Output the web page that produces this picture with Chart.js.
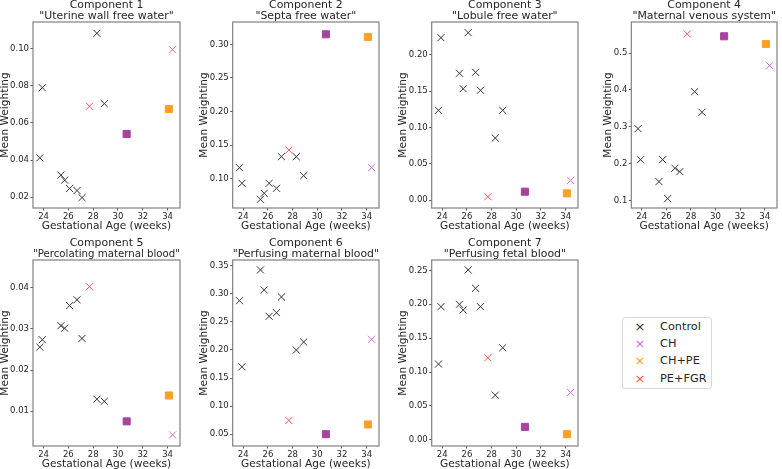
<!DOCTYPE html>
<html lang="en">
<head>
  <meta charset="UTF-8">
  <title>Mean weighting per component</title>
  <script src="https://cdn.jsdelivr.net/npm/chart.js"></script>
  <style>
    body {
      margin: 0;
      background: #fff;
      font-family: 'DejaVu Sans', sans-serif;
      overflow: hidden;
    }
    #wrap {
      position: relative;
      width: 782px;
      height: 469px;
    }
    #wrap canvas {
      position: absolute;
    }
    .legend {
      position: absolute;
      left: 622px;
      top: 317px;
      width: 88px;
      height: 70px;
      border: 1px solid #d9d9d9;
      border-radius: 3px;
      background: #fff;
    }
    .legend .row {
      position: absolute;
      left: 0;
      height: 16px;
      line-height: 16px;
      font-size: 11.3px;
      color: #262626;
      white-space: nowrap;
    }
    .legend .mark {
      display: inline-block;
      width: 34px;
      text-align: center;
      font-size: 13px;
    }
    .legend .txt {
      position: absolute;
      left: 37px;
      top: 0;
    }
  </style>
</head>
<body>
  <div id="wrap">
    <div class="legend" id="legend"></div>
  </div>

  <script>
    // gestational ages (weeks)
    const controlAge = [23.7, 23.9, 25.4, 25.7, 26.1, 26.7, 27.1, 28.3, 28.9];
    const chAge = 34.4;
    const purpleSqAge = 30.7;
    const orangeSqAge = 34.1;
    const pefgrAge = 27.7;

    const titles = [
      'Uterine wall free water',
      'Septa free water',
      'Lobule free water',
      'Maternal venous system',
      'Percolating maternal blood',
      'Perfusing maternal blood',
      'Perfusing fetal blood'
    ];

    // mean weighting of each control, one list per component
    const control1 = [0.0412, 0.0790, 0.0319, 0.0292, 0.0247, 0.0236, 0.0198, 0.1083, 0.0704];
    const control2 = [0.1164, 0.0931, 0.0693, 0.0782, 0.0931, 0.0857, 0.1328, 0.1328, 0.1045];
    const control3 = [0.1237, 0.2239, 0.1748, 0.1535, 0.2308, 0.1761, 0.1513, 0.0855, 0.1237];
    const control4 = [0.295, 0.211, 0.1515, 0.211, 0.1054, 0.1877, 0.1785, 0.3952, 0.3394];
    const control5 = [0.0256, 0.0274, 0.0308, 0.0302, 0.0357, 0.0371, 0.0277, 0.0129, 0.0124];
    const control6 = [0.2876, 0.170, 0.3423, 0.3067, 0.2598, 0.2662, 0.2942, 0.1997, 0.214];
    const control7 = [0.1118, 0.1964, 0.1999, 0.1915, 0.2506, 0.2235, 0.1964, 0.066, 0.1358];
    const controls = [control1, control2, control3, control4, control5, control6, control7];

    // one value per component
    const chValues = [0.0995, 0.1164, 0.0271, 0.4657, 0.0042, 0.2188, 0.0700];
    const purpleSqValues = [0.0541, 0.3149, 0.0115, 0.5453, 0.0075, 0.0500, 0.0192];
    const orangeSqValues = [0.0675, 0.3109, 0.0092, 0.5244, 0.0138, 0.0673, 0.0084];
    const pefgrValues = [0.0690, 0.1427, 0.0046, 0.5515, 0.0403, 0.0744, 0.1211];

    // axes
    const xMin = 23.15, xMax = 35.0;
    const xTicks = [24, 26, 28, 30, 32, 34];
    const yMin = [0.0142, 0.0564, -0.011, 0.080, 0.0015, 0.029, -0.009];
    const yMax = [0.1144, 0.3332, 0.2455, 0.584, 0.0468, 0.360, 0.2652];
    const yTicks = [
      [0.02, 0.04, 0.06, 0.08, 0.10],
      [0.10, 0.15, 0.20, 0.25, 0.30],
      [0.00, 0.05, 0.10, 0.15, 0.20],
      [0.1, 0.2, 0.3, 0.4, 0.5],
      [0.01, 0.02, 0.03, 0.04],
      [0.05, 0.10, 0.15, 0.20, 0.25, 0.30, 0.35],
      [0.00, 0.05, 0.10, 0.15, 0.20, 0.25]
    ];
    const yDecimals = [2, 2, 2, 1, 2, 2, 2];

    const legendLabels = ['Control', 'CH', 'CH+PE', 'PE+FGR'];
    const colors = {
      control: '#333333',
      ch: '#cc6ccb',
      purpleSq: '#a5449f',
      orange: '#f9a126',
      red: '#f2534d'
    };
    const legendColors = [colors.control, colors.ch, colors.orange, colors.red];

    // plot frames on the page: left, top, width, height, y-title centre
    const frames = [
      { L: 33, T: 22, W: 151, H: 186, yt: 5 },
      { L: 233, T: 22, W: 150, H: 186, yt: 204.3 },
      { L: 432, T: 22, W: 150, H: 186, yt: 403.3 },
      { L: 631, T: 22, W: 150, H: 186, yt: 607.7 },
      { L: 33, T: 260, W: 151, H: 186, yt: 5 },
      { L: 233, T: 260, W: 150, H: 186, yt: 204.3 },
      { L: 432, T: 260, W: 150, H: 186, yt: 403.3 }
    ];

    const textColor = '#262626';
    const frameColor = '#808080';

    const framePlugin = {
      id: 'frame',
      afterDraw(chart) {
        const a = chart.chartArea;
        const ctx = chart.ctx;
        ctx.save();
        ctx.strokeStyle = frameColor;
        ctx.lineWidth = 1.2;
        ctx.strokeRect(a.left, a.top, a.right - a.left, a.bottom - a.top);
        ctx.restore();
      }
    };

    function pointSet(label, xs, ys, style, color, radius) {
      return {
        label: label,
        data: xs.map((x, k) => ({ x: x, y: ys[k] })),
        pointStyle: style,
        pointRadius: radius,
        pointHoverRadius: radius,
        pointBorderColor: color,
        pointBackgroundColor: color,
        pointBorderWidth: 1,
        borderColor: color,
        backgroundColor: color,
        showLine: false
      };
    }

    function makePanel(i) {
      const f = frames[i];
      const yw = f.L - (f.yt - 6);
      const topH = 24, botH = 24;
      const cv = document.createElement('canvas');
      cv.width = Math.round(yw + f.W + 2);
      cv.height = topH + f.H + botH;
      cv.style.left = (f.L - yw) + 'px';
      cv.style.top = (f.T - topH) + 'px';
      document.getElementById('wrap').appendChild(cv);

      new Chart(cv, {
        type: 'scatter',
        data: {
          datasets: [
            pointSet('Control', controlAge, controls[i], 'crossRot', colors.control, 5),
            pointSet('CH', [chAge], [chValues[i]], 'crossRot', colors.ch, 5),
            pointSet('square', [purpleSqAge], [purpleSqValues[i]], 'rect', colors.purpleSq, 5),
            pointSet('CH+PE', [orangeSqAge], [orangeSqValues[i]], 'rect', colors.orange, 5),
            pointSet('PE+FGR', [pefgrAge], [pefgrValues[i]], 'crossRot', colors.red, 5)
          ]
        },
        options: {
          responsive: false,
          animation: false,
          layout: { padding: { left: 0, right: cv.width - yw - f.W, top: 0, bottom: 0 } },
          plugins: {
            legend: { display: false },
            tooltip: { enabled: false },
            title: {
              display: true,
              fullSize: false,
              text: ['Component ' + (i + 1), '"' + titles[i] + '"'],
              color: textColor,
              font: { family: 'DejaVu Sans', size: 10.9, weight: 'normal', lineHeight: '11px' },
              padding: { top: 2, bottom: 0 }
            }
          },
          scales: {
            x: {
              type: 'linear',
              min: xMin,
              max: xMax,
              afterBuildTicks: s => { s.ticks = xTicks.map(v => ({ value: v })); },
              afterFit: s => { s.height = botH; },
              grid: { drawOnChartArea: false, drawTicks: true, tickLength: 2.5, color: '#555' },
              border: { display: false },
              ticks: {
                color: textColor,
                padding: 1.5,
                font: { family: 'DejaVu Sans', size: 8.5 },
                callback: v => String(v)
              },
              title: {
                display: true,
                text: 'Gestational Age (weeks)',
                color: textColor,
                font: { family: 'DejaVu Sans', size: 10.6, lineHeight: '12px' },
                padding: { top: 0, bottom: 0 }
              }
            },
            y: {
              type: 'linear',
              min: yMin[i],
              max: yMax[i],
              afterBuildTicks: s => { s.ticks = yTicks[i].map(v => ({ value: v })); },
              afterFit: s => { s.width = yw; },
              grid: { drawOnChartArea: false, drawTicks: true, tickLength: 2.5, color: '#555' },
              border: { display: false },
              ticks: {
                color: textColor,
                padding: 1.5,
                font: { family: 'DejaVu Sans', size: 8.5 },
                callback: v => v.toFixed(yDecimals[i])
              },
              title: {
                display: true,
                text: 'Mean Weighting',
                color: textColor,
                font: { family: 'DejaVu Sans', size: 10.6, lineHeight: '12px' },
                padding: { top: 0, bottom: 0 }
              }
            }
          }
        },
        plugins: [framePlugin]
      });
    }

    for (let i = 0; i < frames.length; i++) makePanel(i);

    // legend
    const legend = document.getElementById('legend');
    legendLabels.forEach((name, k) => {
      const row = document.createElement('div');
      row.className = 'row';
      row.style.top = (1 + k * 17.2) + 'px';
      row.innerHTML = '<span class="mark" style="color:' + legendColors[k] + '">×</span>' +
        '<span class="txt">' + name + '</span>';
      legend.appendChild(row);
    });
  </script>
</body>
</html>
